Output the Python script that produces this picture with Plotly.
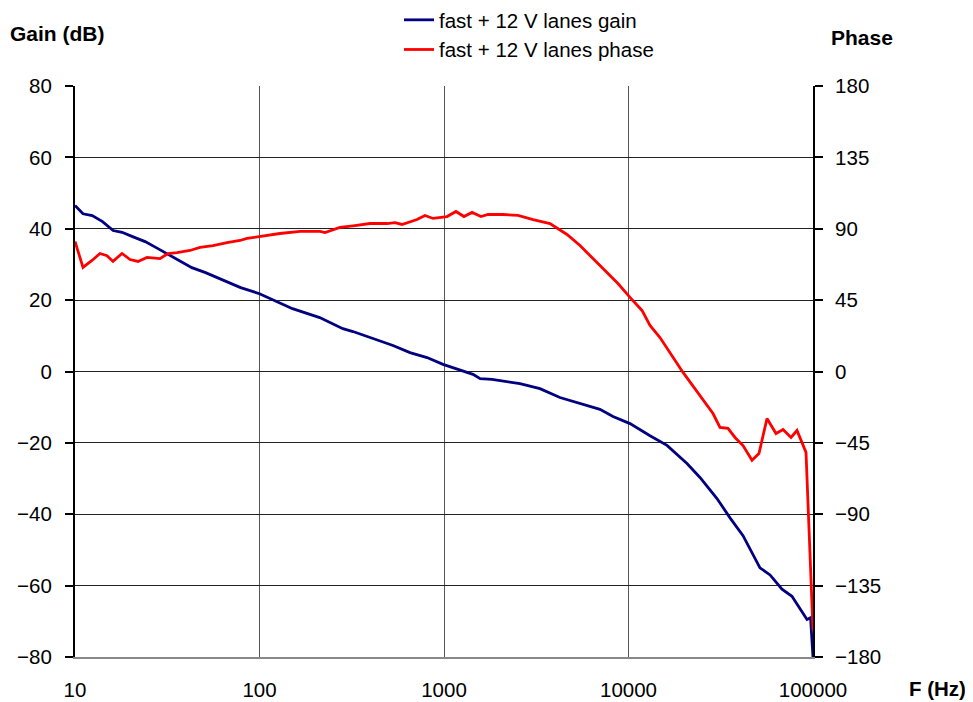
import plotly.graph_objects as go

# Gain curve (frequency in Hz, gain in dB)
gain_freq = [10, 11.05, 12.4, 14.1, 16.1, 18, 20.5, 24, 28, 32.7, 38, 43, 51, 62, 79,
             100, 123, 151, 212, 283, 321, 397, 529, 654, 809, 988, 1221, 1436, 1570,
             1820, 2580, 3310, 4250, 5460, 7000, 8240, 10190, 13080, 16170, 20750,
             24400, 30170, 35500, 41760, 51600, 58500, 67900, 76900, 92800, 97000, 100000]
gain_db = [46.5, 44.2, 43.7, 42, 39.5, 39, 37.8, 36.4, 34.5, 32.5, 30.8, 29.1, 27.7, 25.8, 23.5,
           21.8, 19.6, 17.6, 15.1, 12, 11.2, 9.5, 7.3, 5.3, 3.9, 2.0, 0.3, -0.8, -2,
           -2.2, -3.4, -4.8, -7.3, -9, -10.6, -12.6, -14.6, -18, -20.7, -25.8,
           -29.7, -35.6, -41, -46, -55, -57, -61, -63, -69.5, -69, -80]

# Phase curve (frequency in Hz, phase in degrees)
phase_freq = [10, 11.05, 12.36, 13.66, 14.91, 16.07, 17.98, 19.87, 21.95, 24.56, 28.89, 31.92,
              35.7, 42.0, 47.6, 56.0, 66.7, 78.4, 85.6, 100.6, 129, 166, 213, 226.5, 273, 329,
              397, 491, 543, 592, 654, 714, 789, 872, 1038, 1161, 1283, 1419, 1587, 1732,
              2088, 2518, 3038, 3754, 4642, 5459, 7006, 8770, 10187, 11834, 13078, 14813,
              19746, 25330, 28710, 31330, 34620, 37780, 41760, 46700, 50960, 56320, 63030,
              68780, 76000, 81900, 91650, 100000]
phase_deg = [82, 65.6, 70, 74.4, 73, 69.4, 74.4, 70.6, 69.4, 71.9, 71.2, 74.4,
             75, 76.3, 78.2, 79.4, 81.3, 82.6, 83.9, 85.1, 87, 88.3, 88.3, 87.6, 90.8, 92,
             93.3, 93.3, 93.9, 92.7, 94.6, 95.8, 98.4, 96.5, 97.7, 100.9, 97.7, 100.3, 97.7, 99,
             99, 98.4, 95.8, 93.3, 86.4, 79.4, 66.8, 55.5, 46.7, 38.5, 29, 21.4,
             -0.6, -18.3, -26.5, -35.3, -35.9, -41.6, -46.7, -56, -51.7, -29.6, -39.1,
             -36.6, -41.6, -37.2, -51, -163]

x_ticks = [10, 100, 1000, 10000, 100000]
x_ticklabels = ["10", "100", "1000", "10000", "100000"]
gain_ticks = [-80, -60, -40, -20, 0, 20, 40, 60, 80]
phase_ticks = [-180, -135, -90, -45, 0, 45, 90, 135, 180]

FONT = "Liberation Sans, Arial, Helvetica, sans-serif"

fig = go.Figure()
fig.add_trace(go.Scatter(x=gain_freq, y=gain_db, mode="lines", name="fast + 12 V lanes gain",
                         line=dict(color="#000080", width=2.8), yaxis="y"))
fig.add_trace(go.Scatter(x=phase_freq, y=phase_deg, mode="lines", name="fast + 12 V lanes phase",
                         line=dict(color="#FF0000", width=2.8), yaxis="y2"))

fig.update_layout(
    width=957, height=694,
    margin=dict(l=67, r=152, t=78, b=45, autoexpand=False),
    paper_bgcolor="white", plot_bgcolor="white",
    font=dict(family=FONT, size=20.5, color="black"),
    showlegend=True,
    legend=dict(x=0.439, y=1.1506, xanchor="left", yanchor="top",
                bgcolor="rgba(0,0,0,0)", font=dict(size=20.5), tracegroupgap=0,
                borderwidth=0),
    xaxis=dict(type="log", range=[1, 5], tickvals=x_ticks, ticktext=x_ticklabels,
               showgrid=True, gridcolor="#555555", gridwidth=1,
               showline=True, linecolor="#888888", linewidth=1.5,
               ticks="", ticklabelstandoff=14, zeroline=False),
    yaxis=dict(range=[-80, 80], tickvals=gain_ticks, showgrid=True, gridcolor="#222222",
               gridwidth=1, showline=True, linecolor="black", linewidth=2,
               ticks="outside", ticklen=8, tickwidth=2, tickcolor="black",
               zeroline=False, ticklabelstandoff=9),
    yaxis2=dict(range=[-180, 180], tickvals=phase_ticks, overlaying="y", side="right",
                showgrid=False, showline=True, linecolor="black", linewidth=2,
                ticks="outside", ticklen=8, tickwidth=2, tickcolor="black",
                zeroline=False, ticklabelstandoff=8),
)

fig.add_annotation(text="<b>Gain (dB)</b>", xref="paper", yref="paper",
                   x=-0.0908, y=1.0928, xanchor="left", yanchor="middle",
                   showarrow=False, font=dict(size=21))
fig.add_annotation(text="<b>Phase</b>", xref="paper", yref="paper",
                   x=1.0217, y=1.0858, xanchor="left", yanchor="middle",
                   showarrow=False, font=dict(size=21))
fig.add_annotation(text="<b>F (Hz)</b>", xref="paper", yref="paper",
                   x=1.1274, y=-0.056, xanchor="left", yanchor="middle",
                   showarrow=False, font=dict(size=20.5))

fig.write_html("out.html")
